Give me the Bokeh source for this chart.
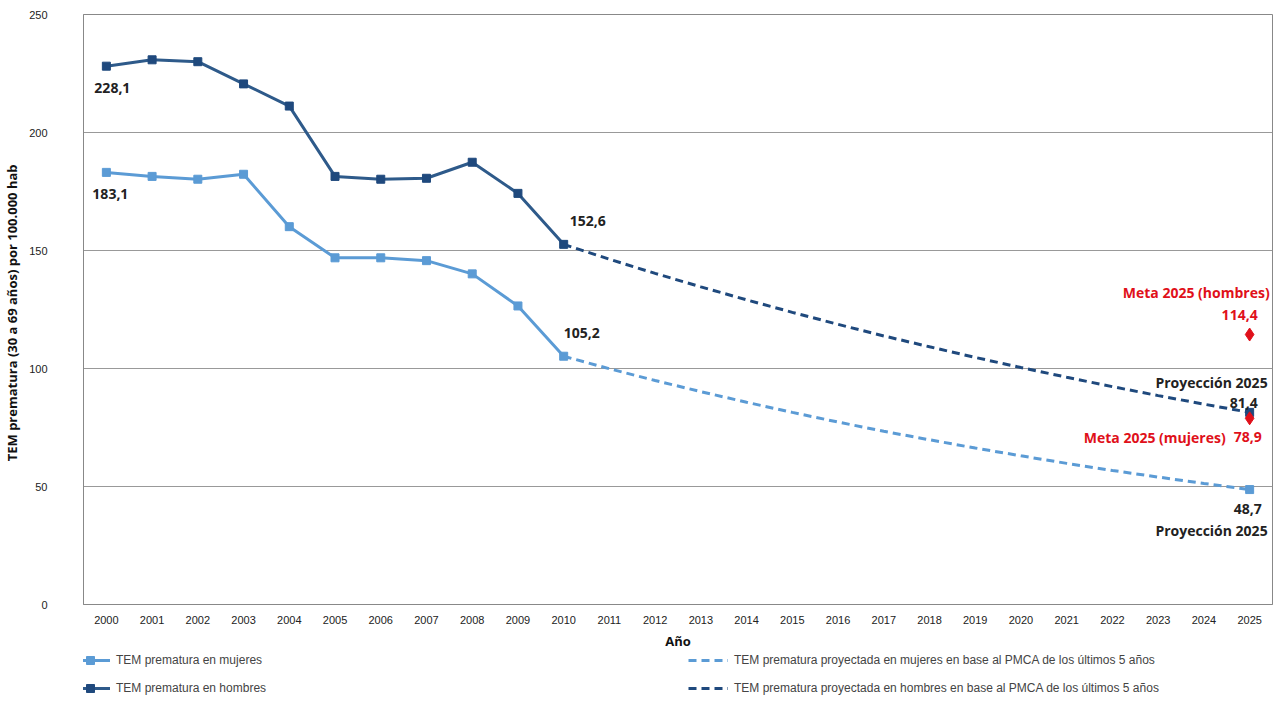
from bokeh.plotting import figure
from bokeh.models import Legend, LegendItem, Range1d, FactorRange
from bokeh.layouts import column
from bokeh.core.properties import value
from bokeh.embed import file_html
from bokeh.resources import INLINE

years = [str(y) for y in range(2000, 2026)]
obs_years = years[:11]
proj_years = years[10:]

mujeres = [183.1, 181.4, 180.2, 182.3, 160.1, 146.9, 146.9, 145.7, 140.1, 126.5, 105.2]
hombres = [228.1, 230.8, 230.0, 220.6, 211.2, 181.4, 180.2, 180.6, 187.4, 174.2, 152.6]
proy_mujeres = [105.2, 99.9, 94.9, 90.2, 85.7, 81.4, 77.3, 73.4, 69.8, 66.3, 63.0,
                59.8, 56.8, 54.0, 51.3, 48.7]
proy_hombres = [152.6, 146.3, 140.3, 134.6, 129.1, 123.8, 118.7, 113.8, 109.2, 104.7,
                100.4, 96.3, 92.3, 88.5, 84.9, 81.4]
meta_hombres = 114.4
meta_mujeres = 78.9

c_muj = "#5b9bd5"
c_hom = "#2e5a8a"
c_hom_m = "#1f497d"
red = "#e0101a"
font = "Liberation Sans"

p = figure(width=1276, height=652, x_range=FactorRange(*years), y_range=Range1d(0, 250),
           output_backend="svg", toolbar_location=None, min_border_left=10,
           min_border_right=4, min_border_top=14)
p.outline_line_color = "#888888"
p.xgrid.grid_line_color = None
p.ygrid.grid_line_color = "#999999"
p.ygrid.ticker = [0, 50, 100, 150, 200, 250]
p.yaxis.ticker = [0, 50, 100, 150, 200, 250]
p.yaxis.axis_line_color = "#888888"
p.xaxis.axis_line_color = "#888888"
p.yaxis.major_label_standoff = 30
for ax in (p.xaxis, p.yaxis):
    ax.major_tick_line_color = None
    ax.minor_tick_line_color = None
    ax.major_label_text_font = font
    ax.major_label_text_font_size = "11px"
    ax.major_label_text_color = "#222222"
    ax.axis_label_text_font = "Open Sans"
    ax.axis_label_text_font_style = "bold"
    ax.axis_label_text_font_size = "13px"
    ax.axis_label_text_color = "#111111"
p.xaxis.axis_label = "Año"
p.yaxis.axis_label = "TEM prematura (30 a  69 años) por 100.000  hab"

p.line(obs_years, mujeres, color=c_muj, line_width=3)
p.scatter(obs_years, mujeres, marker="square", size=8, color=c_muj)
p.line(obs_years, hombres, color=c_hom, line_width=3)
p.scatter(obs_years, hombres, marker="square", size=8, color=c_hom_m)
p.line(proj_years, proy_mujeres, color=c_muj, line_width=3, line_dash="8 5")
p.scatter([proj_years[-1]], [proy_mujeres[-1]], marker="square", size=8, color=c_muj)
p.line(proj_years, proy_hombres, color=c_hom_m, line_width=3, line_dash="8 5")
p.scatter([proj_years[-1]], [proy_hombres[-1]], marker="square", size=8, color=c_hom_m)
p.scatter(["2025", "2025"], [meta_hombres, meta_mujeres], marker="diamond", size=13, color=red)

def lab(x, y, t, color="#222222", dx=0, dy=0, align="left"):
    p.text([x], [y], text=[t], x_offset=dx, y_offset=dy, text_align=align,
           text_baseline="middle", text_color=color, text_font=value("Open Sans"),
           text_font_style="bold", text_font_size="14px")

lab("2000", hombres[0], "228,1", dx=-12, dy=22)
lab("2000", mujeres[0], "183,1", dx=-14, dy=22)
lab("2010", hombres[-1], "152,6", dx=6, dy=-23)
lab("2010", mujeres[-1], "105,2", dx=0, dy=-23)
lab("2025", meta_hombres, "Meta 2025 (hombres)", color=red, dx=20, dy=-42, align="right")
lab("2025", meta_hombres, "114,4", color=red, dx=8, dy=-20, align="right")
lab("2025", proy_hombres[-1], "Proyección 2025", dx=18, dy=-30, align="right")
lab("2025", proy_hombres[-1], "81,4", dx=8, dy=-9, align="right")
lab("2025", meta_mujeres, "Meta 2025 (mujeres)", color=red, dx=-24, dy=19, align="right")
lab("2025", meta_mujeres, "78,9", color=red, dx=12, dy=19, align="right")
lab("2025", proy_mujeres[-1], "48,7", dx=12, dy=19, align="right")
lab("2025", proy_mujeres[-1], "Proyección 2025", dx=18, dy=41, align="right")

# legend panel: same series, drawn outside the visible range so only the legend shows
lg = figure(width=1276, height=46, output_backend="svg", toolbar_location=None,
            x_range=FactorRange(*years), y_range=Range1d(-20, -10),
            x_axis_type=None, y_axis_type=None, min_border=0)
lg.outline_line_color = None
lg.grid.grid_line_color = None
g1 = lg.line(obs_years, mujeres, color=c_muj, line_width=3)
g1m = lg.scatter(obs_years, mujeres, marker="square", size=8, color=c_muj)
g2 = lg.line(obs_years, hombres, color=c_hom, line_width=3)
g2m = lg.scatter(obs_years, hombres, marker="square", size=8, color=c_hom_m)
g3 = lg.line(proj_years, proy_mujeres, color=c_muj, line_width=3, line_dash="8 5")
g4 = lg.line(proj_years, proy_hombres, color=c_hom_m, line_width=3, line_dash="8 5")
leg_style = dict(label_text_font=font, label_text_font_size="12px", border_line_color=None,
                 background_fill_alpha=0, glyph_width=40, spacing=8, padding=0,
                 margin=0, label_standoff=6)
lg.add_layout(Legend(items=[
    LegendItem(label="TEM prematura en mujeres", renderers=[g1, g1m]),
    LegendItem(label="TEM prematura en hombres", renderers=[g2, g2m]),
], location=(-13, 0), **leg_style))
lg.add_layout(Legend(items=[
    LegendItem(label="TEM prematura proyectada en mujeres en base al PMCA de los últimos 5 años", renderers=[g3]),
    LegendItem(label="TEM prematura proyectada en hombres en base al PMCA de los últimos 5 años", renderers=[g4]),
], location=(605, 0), **leg_style))

open("out.html", "w").write(file_html(column(p, lg, spacing=0), INLINE))
